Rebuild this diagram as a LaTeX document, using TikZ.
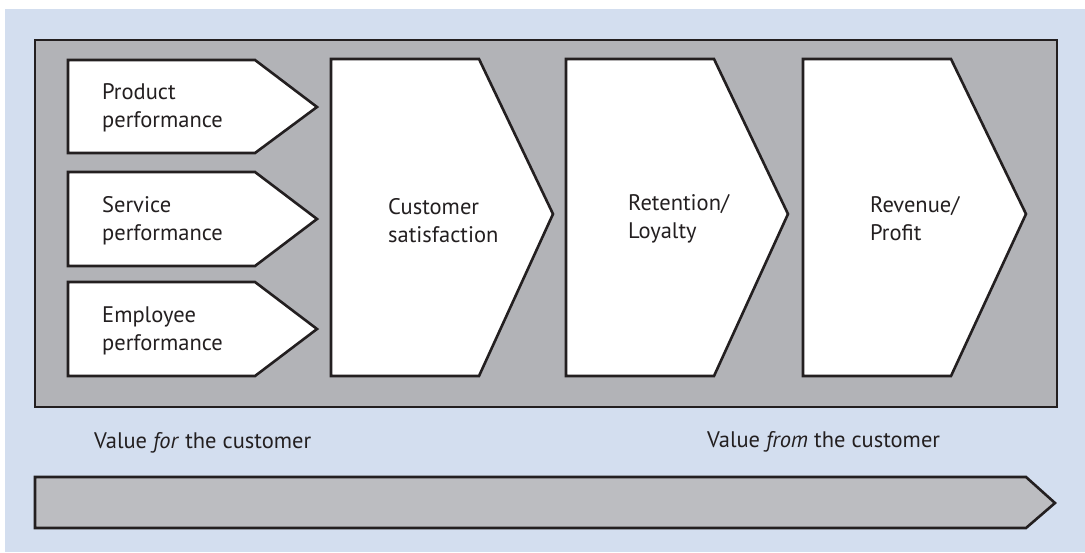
\documentclass[tikz,border=0pt]{standalone}
\usepackage{fontspec}
\setmainfont{PT Sans}
\definecolor{bgblue}{HTML}{D3DEEF}
\definecolor{framegray}{HTML}{B2B3B7}
\definecolor{bargray}{HTML}{BCBDC1}
\definecolor{ink}{HTML}{231F20}
\begin{document}
\begin{tikzpicture}[x=1pt,y=-1pt,
  outline/.style={draw=ink, line width=2.6pt, line join=miter},
  whitebox/.style={outline, fill=white},
  lbl/.style={inner sep=0pt, anchor=west, align=left, text=ink,
    font=\fontsize{22.5}{28}\selectfont},
  vlbl/.style={inner sep=0pt, anchor=base west, text=ink,
    font=\fontsize{22.5}{28}\selectfont}]
\useasboundingbox (0,0) rectangle (1085,552);
\fill[bgblue] (5,9) rectangle (1085,552);
% frame
\draw[outline, fill=framegray] (35,40) rectangle (1057,407);
% small arrows
\draw[whitebox] (68,60) -- (255,60) -- (317,107) -- (255,153) -- (68,153) -- cycle;
\draw[whitebox] (68,172) -- (255,172) -- (317,219) -- (255,266) -- (68,266) -- cycle;
\draw[whitebox] (68,282) -- (255,282) -- (317,329) -- (255,376) -- (68,376) -- cycle;
% big arrows
\draw[whitebox] (331,59) -- (479,59) -- (553,214) -- (479,376) -- (331,376) -- cycle;
\draw[whitebox] (566,59) -- (714,59) -- (788,214) -- (714,376) -- (566,376) -- cycle;
\draw[whitebox] (803,59) -- (951,59) -- (1026,214) -- (951,376) -- (803,376) -- cycle;
% bottom bar
\draw[outline, fill=bargray] (35,477) -- (1026,477) -- (1055,503) -- (1026,528) -- (35,528) -- cycle;
% labels
\node[lbl] (prod) at (102,108) {Product\\performance};
\node[lbl] (serv) at (102,221) {Service\\performance};
\node[lbl] (empl) at (102,331) {Employee\\performance};
\node[lbl] (cust) at (388,221) {Customer\\satisfaction};
\node[lbl] (ret) at (628,219) {Retention/\\Loyalty};
\node[lbl] (rev) at (870,219) {Revenue/\\Profit};
\node[vlbl] (vfor) at (94,448) {Value \textit{for} the customer};
\node[vlbl] (vfrom) at (707,447) {Value \textit{from} the customer};
\end{tikzpicture}
\end{document}
